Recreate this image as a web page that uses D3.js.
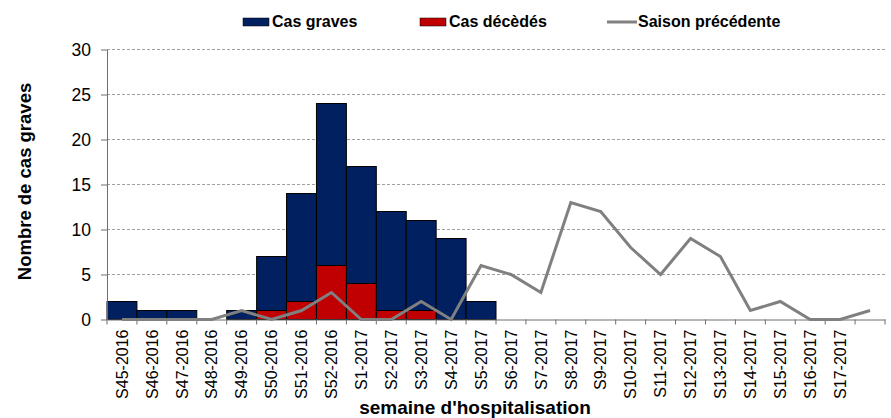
<!DOCTYPE html>
<html>
<head>
<meta charset="utf-8">
<script src="https://cdn.jsdelivr.net/npm/d3@7"></script>
<style>
  body { margin: 0; background: #fff; }
  svg { display: block; font-family: "Liberation Sans", Arial, sans-serif; }
</style>
</head>
<body>
<div id="chart"></div>
<script>
// Semaines d'hospitalisation (la dernière n'a pas d'étiquette)
const weeks = ["S45-2016", "S46-2016", "S47-2016", "S48-2016", "S49-2016", "S50-2016",
  "S51-2016", "S52-2016", "S1-2017", "S2-2017", "S3-2017", "S4-2017", "S5-2017",
  "S6-2017", "S7-2017", "S8-2017", "S9-2017", "S10-2017", "S11-2017", "S12-2017",
  "S13-2017", "S14-2017", "S15-2017", "S16-2017", "S17-2017", ""];
const casGraves   = [2, 1, 1, 0, 1, 7, 14, 24, 17, 12, 11, 9, 2, 0, 0, 0, 0, 0, 0, 0, 0, 0, 0, 0, 0, 0];
const casDecedes  = [0, 0, 0, 0, 0, 1, 2, 6, 4, 1, 1, 0, 0, 0, 0, 0, 0, 0, 0, 0, 0, 0, 0, 0, 0, 0];
const saisonPrec  = [0, 0, 0, 0, 1, 0, 1, 3, 0, 0, 2, 0, 6, 5, 3, 13, 12, 8, 5, 9, 7, 1, 2, 0, 0, 1];
const yTicks = [0, 5, 10, 15, 20, 25, 30];

const W = 891, H = 418;
const margin = { top: 49.5, right: 6, bottom: 98.5, left: 107 };

const svg = d3.select("#chart").append("svg")
  .attr("width", W).attr("height", H);

const x = d3.scaleBand().domain(weeks).range([margin.left, W - margin.right]).padding(0);
const y = d3.scaleLinear().domain([0, 30]).range([H - margin.bottom, margin.top]);

// Grille pointillée
svg.append("g")
  .selectAll("line")
  .data(yTicks.filter(d => d > 0))
  .join("line")
    .attr("x1", margin.left).attr("x2", W - margin.right)
    .attr("y1", d => y(d)).attr("y2", d => y(d))
    .attr("stroke", "#a0a0a0")
    .attr("stroke-dasharray", "3,2");

// Barres : cas graves puis décès par-dessus
svg.append("g")
  .selectAll("rect")
  .data(weeks.map((w, i) => ({ w, v: casGraves[i] })).filter(d => d.v > 0))
  .join("rect")
    .attr("x", d => x(d.w))
    .attr("y", d => y(d.v))
    .attr("width", x.bandwidth())
    .attr("height", d => y(0) - y(d.v))
    .attr("fill", "#002060")
    .attr("stroke", "#000")
    .attr("stroke-width", 1);

svg.append("g")
  .selectAll("rect")
  .data(weeks.map((w, i) => ({ w, v: casDecedes[i] })).filter(d => d.v > 0))
  .join("rect")
    .attr("x", d => x(d.w))
    .attr("y", d => y(d.v))
    .attr("width", x.bandwidth())
    .attr("height", d => y(0) - y(d.v))
    .attr("fill", "#c00000")
    .attr("stroke", "#000")
    .attr("stroke-width", 1);

// Axe Y
const yAxis = svg.append("g")
  .attr("transform", `translate(${margin.left},0)`)
  .call(d3.axisLeft(y).tickValues(yTicks).tickSize(6).tickPadding(10).tickSizeOuter(0));
yAxis.select(".domain").attr("stroke", "#6e6e6e");
yAxis.selectAll(".tick line").attr("stroke", "#6e6e6e");
yAxis.selectAll(".tick text").attr("font-size", 17.5).attr("fill", "#000")
  .attr("font-family", "Liberation Sans, Arial, sans-serif");

// Axe X : ligne + graduations aux limites des catégories
const xAxis = svg.append("g")
  .attr("transform", `translate(0,${y(0)})`)
  .call(d3.axisBottom(x).tickSize(0).tickPadding(0).tickSizeOuter(0));
xAxis.select(".domain").attr("stroke", "#6e6e6e");
xAxis.selectAll(".tick text")
  .attr("font-size", 16)
  .attr("fill", "#000")
  .attr("font-family", "Liberation Sans, Arial, sans-serif")
  .attr("text-anchor", "end")
  .attr("transform", "rotate(-90)")
  .attr("x", -10)
  .attr("y", 0)
  .attr("dy", "0.36em");

const bounds = weeks.map(w => x(w)).concat([x.range()[1]]);
svg.append("g")
  .selectAll("line")
  .data(bounds)
  .join("line")
    .attr("x1", d => d).attr("x2", d => d)
    .attr("y1", y(0)).attr("y2", y(0) + 5)
    .attr("stroke", "#6e6e6e");

// Saison précédente
const line = d3.line()
  .x((d, i) => x(weeks[i]) + x.bandwidth() / 2)
  .y(d => y(d));
svg.append("path")
  .datum(saisonPrec)
  .attr("d", line)
  .attr("fill", "none")
  .attr("stroke", "#808080")
  .attr("stroke-width", 3)
  .attr("stroke-linejoin", "miter");

// Titres des axes
svg.append("text")
  .attr("transform", `translate(31, ${(y(0) + y(30)) / 2 - 3}) rotate(-90)`)
  .attr("text-anchor", "middle")
  .attr("font-size", 18.5)
  .attr("font-weight", "bold")
  .text("Nombre de cas graves");

svg.append("text")
  .attr("x", 475)
  .attr("y", 414)
  .attr("text-anchor", "middle")
  .attr("font-size", 19)
  .attr("font-weight", "bold")
  .text("semaine d'hospitalisation");

// Légende
const legend = svg.append("g").attr("font-size", 16).attr("font-weight", "bold");
legend.append("rect").attr("x", 243).attr("y", 18).attr("width", 26).attr("height", 8)
  .attr("fill", "#002060").attr("stroke", "#000").attr("stroke-width", 0.5);
legend.append("text").attr("x", 272).attr("y", 27).text("Cas graves");
legend.append("rect").attr("x", 420).attr("y", 18).attr("width", 26).attr("height", 8)
  .attr("fill", "#c00000").attr("stroke", "#000").attr("stroke-width", 0.5);
legend.append("text").attr("x", 449).attr("y", 27).text("Cas décèdés");
legend.append("line").attr("x1", 607).attr("x2", 637).attr("y1", 22).attr("y2", 22)
  .attr("stroke", "#808080").attr("stroke-width", 3);
legend.append("text").attr("x", 638).attr("y", 27).text("Saison précédente");
</script>
</body>
</html>
